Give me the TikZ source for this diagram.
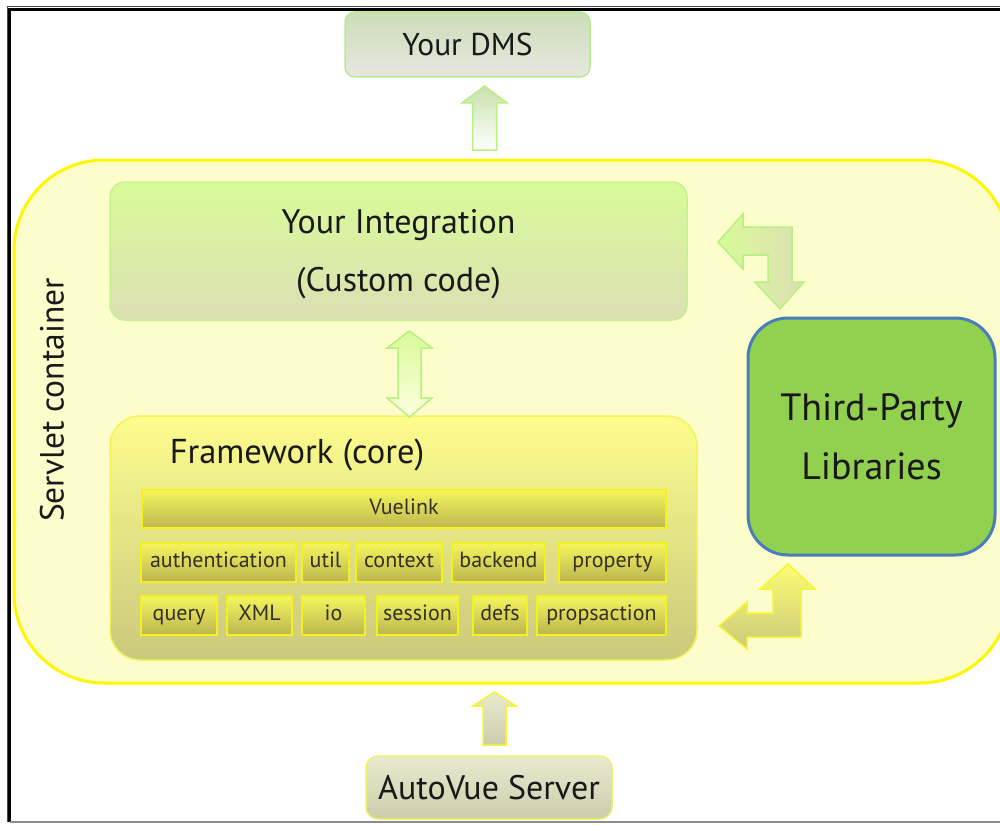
\documentclass[tikz,border=0pt]{standalone}
\usepackage{fontspec}
\setmainfont{PT Sans}
\begin{document}
\begin{tikzpicture}[x=1pt,y=-1pt,
  box/.style={draw, line width=1.5pt, inner sep=0pt, text=black!90},
  small/.style={box, draw=cSmallB, top color=cSmallT, bottom color=cSmallB2, minimum height=39pt,
     font=\fontsize{22}{24}\selectfont, text=black!85!olive, text height=1.06em, text depth=0.04em},
  greenarrow/.style={draw=cGrB, line width=1.5pt, line join=miter},
  yellowarrow/.style={draw=cYeB, line width=1.5pt, line join=miter}
]
\definecolor{cServF}{HTML}{FDFDCB}
\definecolor{cServB}{HTML}{FFF700}
\definecolor{cDmsT}{HTML}{CCDDB8}
\definecolor{cDmsB}{HTML}{E6E7DF}
\definecolor{cDmsD}{HTML}{B8EA90}
\definecolor{cIntT}{HTML}{D8FB98}
\definecolor{cIntB}{HTML}{DCDFB4}
\definecolor{cIntD}{HTML}{C4F290}
\definecolor{cFwT}{HTML}{FCFC8E}
\definecolor{cFwB}{HTML}{CBC97C}
\definecolor{cFwD}{HTML}{F4F45A}
\definecolor{cSmallT}{HTML}{F5F55C}
\definecolor{cSmallB2}{HTML}{BDB650}
\definecolor{cSmallB}{HTML}{F2F220}
\definecolor{cTpF}{HTML}{92D050}
\definecolor{cTpD}{HTML}{4A7EBB}
\definecolor{cAvT}{HTML}{E9E9CF}
\definecolor{cAvB}{HTML}{CDCDAD}
\definecolor{cAvD}{HTML}{EFEF6A}
\definecolor{cGrB}{HTML}{B6F080}
\definecolor{cYeB}{HTML}{F6F630}

\useasboundingbox (0,0) rectangle (1000,824);
\clip (0,0) rectangle (1000,824);
\fill[white] (0,0) rectangle (1000,824);

% frame
\draw[black!70, line width=1pt] (1010,7) -- (7,7) -- (7,822);
\draw[black, line width=3.5pt] (1010,9.5) -- (9.5,9.5) -- (9.5,822);
\draw[black!45, line width=2pt] (9.5,822) -- (1010,822);

% servlet container
\node[draw=cServB, fill=cServF, line width=3pt, rounded corners=90pt,
      minimum width=996pt, minimum height=523pt] (servlet) at (512,421.5) {};
\node[rotate=90, font=\fontsize{33.5}{36}\selectfont, text=black!90] (servlabel) at (52,400) {Servlet container};

% Your DMS
\node[box, draw=cDmsD, top color=cDmsT, bottom color=cDmsB, rounded corners=10pt,
      minimum width=245pt, minimum height=65pt, font=\fontsize{31.5}{33}\selectfont] (dms) at (467.5,44.5) {Your DMS};

% Your Integration
\node[box, draw=cIntD, top color=cIntT, bottom color=cIntB, rounded corners=15pt,
      minimum width=577pt, minimum height=138pt] (integ) at (398.5,251) {};
\node[font=\fontsize{34}{36}\selectfont, text=black!90] (integ1) at (398.5,225.5) {Your Integration};
\node[font=\fontsize{34}{36}\selectfont, text=black!90] (integ2) at (398.5,283.5) {(Custom code)};

% Framework
\node[box, draw=cFwD, top color=cFwT, bottom color=cFwB, rounded corners=30pt,
      minimum width=587pt, minimum height=244pt] (fw) at (403.5,538) {};
\node[font=\fontsize{34.5}{36}\selectfont, text=black!90] (fwtitle) at (297,455) {Framework (core)};

\node[small, minimum width=524pt, minimum height=38pt] (vuelink) at (404,509) {Vuelink};

\node[small, minimum width=155pt] (auth) at (218.5,562.5) {authentication};
\node[small, minimum width=47pt] (util) at (325.5,562.5) {util};
\node[small, minimum width=86pt] (context) at (399,562.5) {context};
\node[small, minimum width=93pt] (backend) at (498.5,562.5) {backend};
\node[small, minimum width=107pt] (property) at (612.5,562.5) {property};

\node[small, minimum width=76pt] (query) at (179,615.5) {query};
\node[small, minimum width=65pt] (xml) at (259.5,615.5) {XML};
\node[small, minimum width=63pt] (io) at (333.5,615.5) {io};
\node[small, minimum width=81pt] (session) at (417.5,615.5) {session};
\node[small, minimum width=54pt] (defs) at (500,615.5) {defs};
\node[small, minimum width=129pt] (propsaction) at (601.5,615.5) {propsaction};

% Third-Party Libraries
\node[draw=cTpD, fill=cTpF, line width=3pt, rounded corners=40pt,
      minimum width=247pt, minimum height=237pt, align=center,
      font=\fontsize{38}{59}\selectfont, text=black!90] (tpl) at (871.5,436.5) {Third-Party\\Libraries};

% AutoVue Server
\node[box, draw=cAvD, top color=cAvT, bottom color=cAvB, rounded corners=12pt,
      minimum width=246pt, minimum height=63pt, font=\fontsize{34}{36}\selectfont] (avs) at (489,787.5) {AutoVue Server};

% arrow Integration -> DMS
\path[greenarrow, top color=cDmsT!80!cGrB, bottom color=white]
  (484.5,86) -- (507,103) -- (496.5,103) -- (496.5,150) -- (472.5,150) -- (472.5,103) -- (462,103) -- cycle;

% double arrow integration <-> framework
\path[greenarrow, top color=cIntT, bottom color=cServF!60!white]
  (409.5,331) -- (432,348) -- (421,348) -- (421,398) -- (432,398) -- (409.5,417)
  -- (387,398) -- (398,398) -- (398,348) -- (387,348) -- cycle;

% bent arrow integration <-> third party
\path[greenarrow, left color=cIntT, right color=cIntB]
  (718,242) -- (743,214) -- (743,227) -- (792,227) -- (792,282) -- (804,282)
  -- (780,309) -- (755,282) -- (768,282) -- (768,255) -- (743,255) -- (743,269) -- cycle;

% bent arrow framework <-> third party
\path[yellowarrow, top color=cFwT!80!yellow, bottom color=cFwB]
  (788,564) -- (815,589) -- (801,589) -- (801,637) -- (747,637) -- (747,649)
  -- (719,626) -- (747,602) -- (747,613) -- (773,613) -- (773,589) -- (760,589) -- cycle;

% arrow AutoVue -> servlet
\path[yellowarrow, top color=cAvT, bottom color=cAvB]
  (494.5,692) -- (516,706) -- (506,706) -- (506,745) -- (483,745) -- (483,706) -- (473,706) -- cycle;
\end{tikzpicture}
\end{document}
